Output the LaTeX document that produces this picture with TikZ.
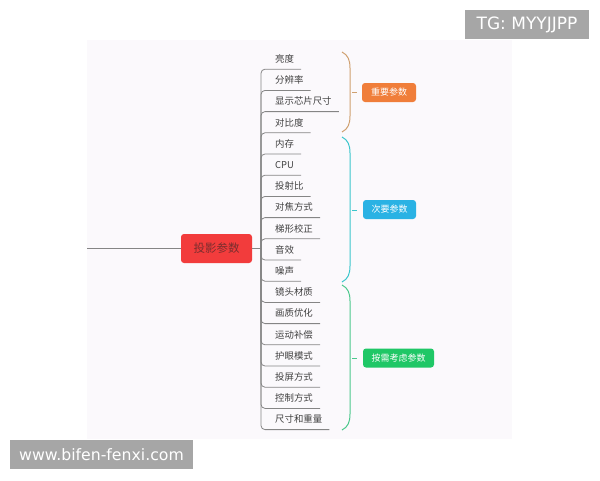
\documentclass[tikz,border=0pt]{standalone}
\usepackage{fontspec}
\setmainfont{Liberation Sans}
\newfontfamily\cjk{Noto Sans CJK SC}
\newfontfamily\wmfont{DejaVu Sans}
\usetikzlibrary{calc}
\definecolor{panel}{HTML}{FBF9FC}
\definecolor{linegray}{HTML}{858585}
\definecolor{leaftext}{HTML}{404040}
\definecolor{rootred}{HTML}{F23C3C}
\definecolor{roottext}{HTML}{7A2E2E}
\definecolor{obrace}{HTML}{CFA070}
\definecolor{obox}{HTML}{F07E3A}
\definecolor{cbrace}{HTML}{3CC6CC}
\definecolor{cbox}{HTML}{2AB2E4}
\definecolor{gbrace}{HTML}{4CC88C}
\definecolor{gbox}{HTML}{1FC766}
\definecolor{wmgray}{HTML}{A6A6A6}
\tikzset{
  leaf/.style={anchor=west, inner xsep=0pt, inner ysep=0pt, text height=7pt, text depth=2pt,
    font=\cjk\fontsize{9.4}{11}\selectfont, text=leaftext},
  branch/.style={draw=linegray, line width=0.8pt, rounded corners=4pt},
  grouplabel/.style={rounded corners=3pt, text=white, inner sep=0pt, minimum height=19pt,
    font=\cjk\fontsize{9}{10}\selectfont},
  bracepath/.style={line width=1pt},
  wmbox/.style={fill=wmgray, text=white, inner sep=0pt, font=\wmfont}
}
\begin{document}
\begin{tikzpicture}[x=1pt,y=-1pt]
\useasboundingbox (0,0) rectangle (600,480);
\fill[white] (0,0) rectangle (600,480);
\fill[panel] (87,40) rectangle (512,439);

% root
\node[fill=rootred, rounded corners=3pt, minimum width=71pt, minimum height=29pt, inner sep=0pt,
  text=roottext, font=\cjk\fontsize{11.5}{13}\selectfont] (root) at (216.5,248.5) {投影参数};
\coordinate (lstart) at (87,248.5);
\coordinate (hub) at (261,248.5);
\draw[draw=linegray, line width=0.8pt] (lstart) -- (root.west);
\draw[draw=linegray, line width=0.8pt] (root.east) -- (hub);

% leaves
\foreach \t [count=\i from 0] in {亮度,分辨率,显示芯片尺寸,对比度,内存,CPU,投射比,对焦方式,梯形校正,音效,噪声,镜头材质,画质优化,运动补偿,护眼模式,投屏方式,控制方式,尺寸和重量}{
  \node[leaf] (l\i) at (275,{60+21.2*\i}) {\t};
  \draw[branch] (hub) |- ([xshift=7pt,yshift=-4.5pt]l\i.south east);
}

% braces
\draw[bracepath, obrace] (342,52) .. controls (348,55) and (350,60) .. (350,68) -- (350,116) .. controls (350,124) and (348,129) .. (342,132);
\draw[bracepath, obrace] (352,92) -- (357,92);
\draw[bracepath, cbrace] (342,137) .. controls (348,140) and (350,145) .. (350,153) -- (350,266) .. controls (350,274) and (348,279) .. (342,282);
\draw[bracepath, cbrace] (352,210) -- (357,210);
\draw[bracepath, gbrace] (342,285) .. controls (348,288) and (350,293) .. (350,301) -- (350,414) .. controls (350,422) and (348,427) .. (342,430);
\draw[bracepath, gbrace] (352,358) -- (357,358);

% group labels
\node[grouplabel, fill=obox, minimum width=54pt] (g1) at (389,92.5) {重要参数};
\node[grouplabel, fill=cbox, minimum width=53pt] (g2) at (389.5,209.5) {次要参数};
\node[grouplabel, fill=gbox, minimum width=71pt] (g3) at (398.5,358) {按需考虑参数};

% watermarks
\node[wmbox, minimum width=124pt, minimum height=29pt, font=\wmfont\fontsize{17}{19}\selectfont] (wm1) at (527,24.5) {TG: MYYJJPP};
\node[wmbox, minimum width=183pt, minimum height=29pt, font=\wmfont\fontsize{15.7}{17}\selectfont] (wm2) at (101.5,454.5) {www.bifen-fenxi.com};
\end{tikzpicture}
\end{document}
